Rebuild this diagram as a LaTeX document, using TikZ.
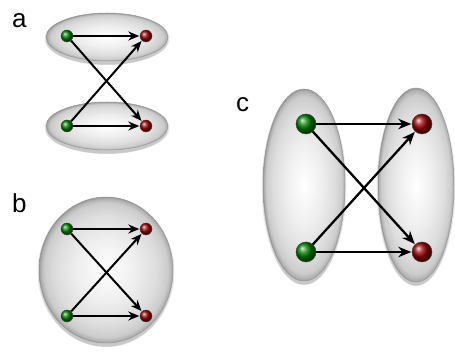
\documentclass[tikz,border=0pt]{standalone}
\usepackage{fontspec}
\newfontfamily\labfont{Liberation Sans}
\usetikzlibrary{arrows.meta,shadings}
\pgfdeclareradialshading{ellshade}{\pgfpoint{0bp}{0bp}}{color(0bp)=(white); color(11bp)=(gray!13); color(19bp)=(gray!27); color(23bp)=(gray!40); color(24.5bp)=(gray!62); color(25bp)=(gray!82); color(50bp)=(gray!82)}
\tikzset{
  blob/.style={shading=ellshade, draw=gray!80, line width=0.5pt},
  blobshadow/.style={fill=black, opacity=0.08},
  gsmall/.style={circle, minimum size=12pt, inner sep=0pt, ball color=green!50!black, draw=black!75, line width=0.4pt},
  rsmall/.style={circle, minimum size=12pt, inner sep=0pt, ball color=red!60!black, draw=black!75, line width=0.4pt},
  gbig/.style={circle, minimum size=20pt, inner sep=0pt, ball color=green!50!black, draw=black!75, line width=0.5pt},
  rbig/.style={circle, minimum size=20pt, inner sep=0pt, ball color=red!60!black, draw=black!75, line width=0.5pt},
  arr/.style={-{Stealth[length=11pt,width=9pt]}, line width=2pt, shorten >=0.5pt},
  arrbig/.style={-{Stealth[length=13pt,width=10.5pt]}, line width=2.3pt, shorten >=0.5pt},
  lab/.style={anchor=base west, inner sep=0pt, font=\labfont\fontsize{26}{26}\selectfont}
}
\newcommand{\softshadow}[4]{%
  \fill[blobshadow] (#1,#2+2) ellipse [x radius=#3+1.5, y radius=#4+2];
  \fill[blobshadow] (#1,#2+2.5) ellipse [x radius=#3+0.5, y radius=#4+1.5];
  \fill[blobshadow] (#1,#2+3) ellipse [x radius=#3-0.5, y radius=#4+0.5];}
\begin{document}
\begin{tikzpicture}[x=1pt,y=-1pt]
\useasboundingbox (0,0) rectangle (455,352);
% panel a
\node[lab] (la) at (12,28) {a};
\softshadow{107}{37}{61}{24}
\softshadow{107}{126}{61}{24}
\path[blob] (107,37) ellipse [x radius=61, y radius=24];
\path[blob] (107,126) ellipse [x radius=61, y radius=24];
\node[gsmall] (ag1) at (67,36) {};
\node[rsmall] (ar1) at (146,36) {};
\node[gsmall] (ag2) at (67,126) {};
\node[rsmall] (ar2) at (146,126) {};
\draw[arr] (ag1) -- (ar1);
\draw[arr] (ag2) -- (ar2);
\draw[arr] (ag1) -- (ar2);
\draw[arr] (ag2) -- (ar1);
% panel b
\node[lab] (lb) at (12,213) {b};
\softshadow{106}{270}{67}{73}
\path[blob] (106,270) ellipse [x radius=67, y radius=73];
\node[gsmall] (bg1) at (67,229) {};
\node[rsmall] (br1) at (146,229) {};
\node[gsmall] (bg2) at (67,316) {};
\node[rsmall] (br2) at (146,316) {};
\draw[arr] (bg1) -- (br1);
\draw[arr] (bg2) -- (br2);
\draw[arr] (bg1) -- (br2);
\draw[arr] (bg2) -- (br1);
% panel c
\node[lab] (lc) at (236,112) {c};
\softshadow{304}{185}{41}{96}
\softshadow{416}{185}{38}{97}
\path[blob] (304,185) ellipse [x radius=41, y radius=96];
\path[blob] (416,185) ellipse [x radius=38, y radius=97];
\node[gbig] (cg1) at (306,124) {};
\node[rbig] (cr1) at (422,124) {};
\node[gbig] (cg2) at (306,252) {};
\node[rbig] (cr2) at (422,252) {};
\draw[arrbig] (cg1) -- (cr1);
\draw[arrbig] (cg2) -- (cr2);
\draw[arrbig] (cg1) -- (cr2);
\draw[arrbig] (cg2) -- (cr1);
\end{tikzpicture}
\end{document}
